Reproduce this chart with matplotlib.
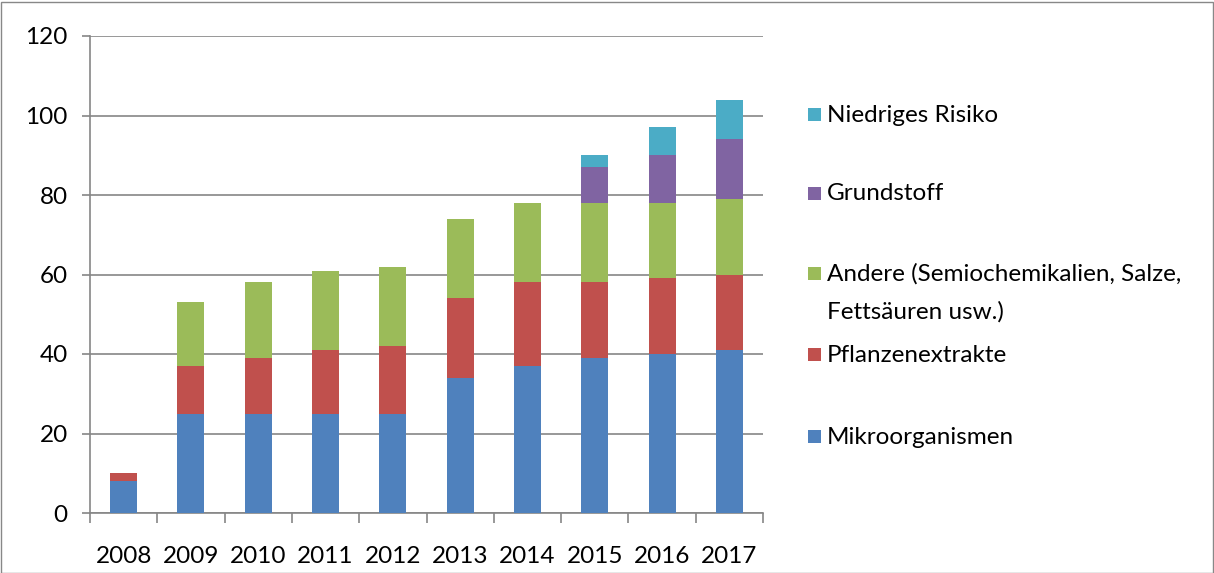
import matplotlib
matplotlib.use("Agg")
import matplotlib.pyplot as plt
from matplotlib.patches import Rectangle
import numpy as np

plt.rcParams['font.family'] = ['Lato', 'DejaVu Sans']

years = ["2008", "2009", "2010", "2011", "2012", "2013", "2014", "2015", "2016", "2017"]
mikro = [8, 25, 25, 25, 25, 34, 37, 39, 40, 41]
pflanzen = [2, 12, 14, 16, 17, 20, 21, 19, 19, 19]
andere = [0, 16, 19, 20, 20, 20, 20, 20, 19, 19]
grundstoff = [0, 0, 0, 0, 0, 0, 0, 9, 12, 15]
niedrig = [0, 0, 0, 0, 0, 0, 0, 3, 7, 10]

series = [
    ("Mikroorganismen", mikro, "#4F81BD"),
    ("Pflanzenextrakte", pflanzen, "#C0504D"),
    ("Andere (Semiochemikalien, Salze,\nFettsäuren usw.)", andere, "#9BBB59"),
    ("Grundstoff", grundstoff, "#8064A2"),
    ("Niedriges Risiko", niedrig, "#4BACC6"),
]

FS = 17.5
W, H = 1214, 573
fig = plt.figure(figsize=(W / 100, H / 100), dpi=100)
fig.patches.append(Rectangle((0.5 / W, 0.5 / H), (W - 2) / W, (H - 2) / H, transform=fig.transFigure,
                             fill=False, edgecolor="#888888", linewidth=1))

x0, x1, ytop, ybot = 90, 763, 36, 513
ax = fig.add_axes([x0 / W, 1 - ybot / H, (x1 - x0) / W, (ybot - ytop) / H])

x = np.arange(len(years))
bottom = np.zeros(len(years))
for name, vals, col in series:
    v = np.array(vals, dtype=float)
    ax.bar(x, v, 0.4, bottom=bottom, color=col, edgecolor="none", zorder=3)
    bottom += v

ax.set_xlim(-0.5, len(years) - 0.5)
ax.set_ylim(0, 120)
ax.set_yticks(np.arange(0, 121, 20))
ax.yaxis.grid(True, color="#868686", linewidth=1.2, zorder=0)
ax.set_axisbelow(True)
for s in ["top", "right"]:
    ax.spines[s].set_visible(False)
ax.spines["left"].set_color("#868686")
ax.spines["bottom"].set_color("#868686")
ax.spines["left"].set_linewidth(1.2)
ax.spines["bottom"].set_linewidth(1.2)

ax.set_xticks(np.arange(-0.5, len(years), 1.0))
ax.set_xticklabels([])
ax.set_xticks(x, minor=True)
ax.set_xticklabels(years, minor=True, fontsize=FS)
ax.tick_params(axis="x", which="major", length=7, color="#868686", width=1.2, direction="out")
ax.tick_params(axis="x", which="minor", length=0, pad=24)
ax.tick_params(axis="y", length=6, color="#868686", width=1.2, labelsize=FS, pad=10)

# legend (manual, Excel-style)
entries = [
    ("Niedriges Risiko", "#4BACC6", 115),
    ("Grundstoff", "#8064A2", 194),
    ("Andere (Semiochemikalien, Salze,", "#9BBB59", 274),
    ("Pflanzenextrakte", "#C0504D", 355),
    ("Mikroorganismen", "#4F81BD", 437),
]
for label, col, yp in entries:
    fig.patches.append(Rectangle((808 / W, 1 - (yp + 6) / H), 13 / W, 13 / H,
                                 transform=fig.transFigure, facecolor=col, edgecolor="none"))
    fig.text(827 / W, 1 - yp / H, label, fontsize=FS, va="center", ha="left")
fig.text(827 / W, 1 - 312 / H, "Fettsäuren usw.)", fontsize=FS, va="center", ha="left")

fig.savefig("out.png", dpi=100)
